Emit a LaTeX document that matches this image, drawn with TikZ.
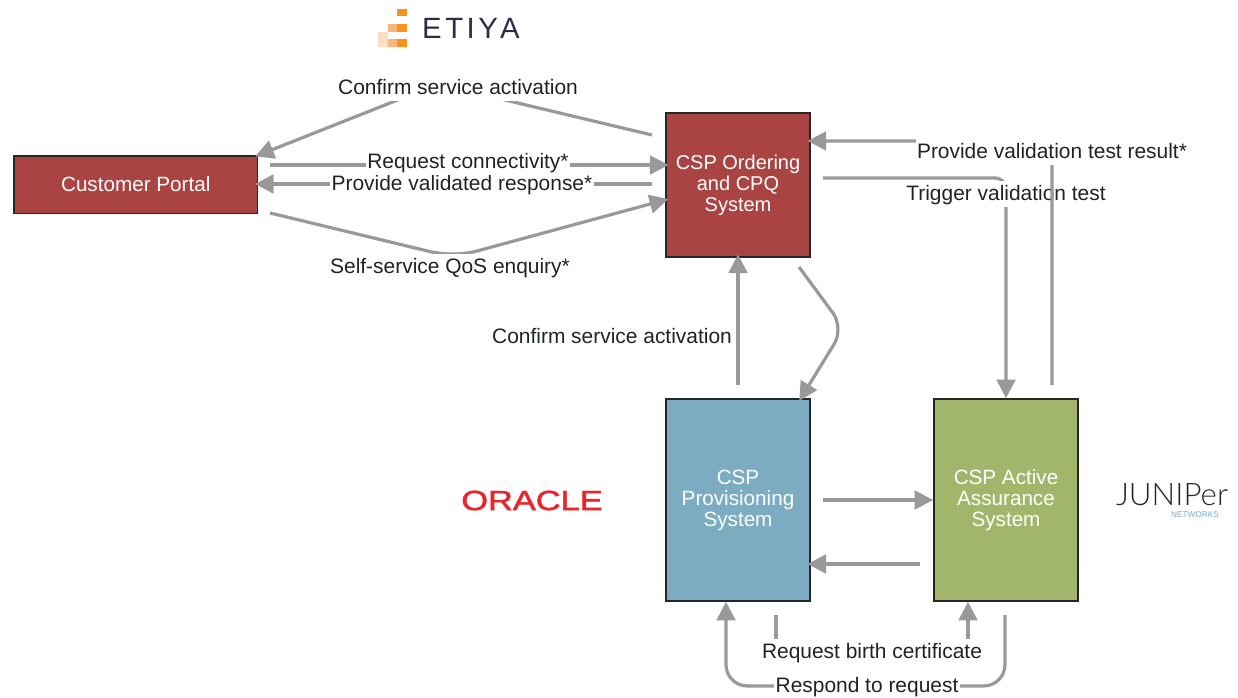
\documentclass[tikz,border=0pt]{standalone}
\usepackage{fontspec}
\usepackage{graphicx}
\setmainfont{Liberation Sans}
\newfontfamily\thinfont{Lato Light}
\newfontfamily\oraclefont[FakeBold=1.6]{Liberation Sans}
\usetikzlibrary{arrows.meta}
\definecolor{conn}{HTML}{999999}
\definecolor{redbox}{HTML}{A94442}
\definecolor{bluebox}{HTML}{7BACC1}
\definecolor{greenbox}{HTML}{A2B66B}
\definecolor{ink}{HTML}{1F2328}
\definecolor{etiyaO}{HTML}{F7931E}
\definecolor{etiyaM}{HTML}{FBB57C}
\definecolor{etiyaL}{HTML}{FDDDC4}
\definecolor{etiyaT}{HTML}{2B2E4A}
\definecolor{oraclered}{HTML}{E8262D}
\newcommand{\boxtext}[1]{\raisebox{-1pt}{\parbox{105pt}{\centering #1}}}
\tikzset{
  box/.style={draw=black!85,line width=1.2pt,text=white,align=center,inner sep=0pt,anchor=north west,
    font=\fontsize{15.5}{15.75}\selectfont},
  wire/.style={draw=conn,line width=2.4pt,rounded corners=8pt},
  arrowed/.style={wire,shorten >=-2.5pt,-{Triangle[length=14pt,width=14pt]}},
  lbl/.style={fill=white,text=ink,inner xsep=1pt,inner ysep=0pt,text height=14.5pt,text depth=5pt,font=\fontsize{15.7}{17}\selectfont},
}
\begin{document}
\begin{tikzpicture}[x=0.75pt,y=-0.75pt]
\path[use as bounding box] (0,0) rectangle (1238,698);
% boxes
\node[box,fill=redbox,minimum width=182.6pt,minimum height=43pt] (portal) at (13.2,155.2) {\raisebox{0.7pt}{Customer Portal}};
\node[box,fill=redbox,minimum width=108pt,minimum height=108pt,font=\fontsize{15}{15.75}\selectfont] (ordering) at (665.2,112.2) {CSP Ordering\\and CPQ\\System};
\node[box,fill=bluebox,minimum width=108pt,minimum height=151.5pt] (prov) at (665.2,398.2) {\boxtext{CSP\\Provisioning\\System}};
\node[box,fill=greenbox,minimum width=108pt,minimum height=151.5pt] (active) at (933.2,398.2) {\boxtext{CSP Active\\Assurance\\System}};
% free-end coordinates
\coordinate (c1) at (652,135);
\coordinate (c1m) at (438,84);
\coordinate (c2) at (270,165);
\coordinate (c3) at (652,184);
\coordinate (c4) at (270,213);
\coordinate (c4a) at (440,254);
\coordinate (c4b) at (466,254);
\coordinate (c5) at (738,385);
\coordinate (c6) at (799,267);
\coordinate (c6m) at (844,328);
\coordinate (c6e) at (801,398);
\coordinate (c7) at (823,178);
\coordinate (c8) at (1052,385);
\coordinate (c8m) at (1052,141);
\coordinate (c9) at (823,500);
\coordinate (c10) at (920,564);
\coordinate (c11) at (776,615);
\coordinate (c11a) at (776,650);
\coordinate (c11b) at (968,650);
\coordinate (c12) at (1005,615);
\coordinate (c12a) at (1005,686);
\coordinate (c12b) at (726,686);
% connectors under labels
\draw[arrowed,rounded corners=0pt] (c1) -- (c1m) -- (portal.north east);
\draw[arrowed] (c2) -- (c2 -| ordering.west);
\draw[arrowed] (c3) -- (c3 -| portal.east);
\draw[arrowed] (c4) -- (c4a) -- (c4b) -- (665,200);
\draw[arrowed] (c5) -- (c5 |- ordering.south);
\draw[arrowed,rounded corners=14pt] (c6) -- (c6m) -- (c6e);
\draw[arrowed,shorten >=0pt] (c7) -- (c7 -| active.north) -- (active.north);
\draw[arrowed,shorten >=0pt] (c9) -- (c9 -| active.west);
\draw[arrowed] (c10) -- (c10 -| prov.east);
\draw[arrowed,rounded corners=0pt,shorten >=0pt] (c11) -- (c11a) -- (c11b) -- (c11b |- active.south);
\draw[arrowed,rounded corners=16pt,shorten >=0pt] (c12) -- (c12a) -- (c12b) -- (c12b |- prov.south);
% labels
\node[lbl] (l1) at (458,87.7) {Confirm service activation};
\node[lbl] (l3) at (462,183.7) {Provide validated response*};
\node[lbl] (l2) at (468,161.7) {Request connectivity*};
\node[lbl] (l4) at (450,266.7) {Self-service QoS enquiry*};
\node[lbl] (l5) at (612,336.7) {Confirm service activation};
\node[lbl] (l6) at (1006,193.7) {Trigger validation test};
\draw[arrowed] (c8) -- (c8m) -- (c8m -| ordering.east);
\node[lbl] (l7) at (1052,151.7) {Provide validation test result*};
\node[lbl] (l8) at (872,651.7) {Request birth certificate};
\node[lbl] (l9) at (867,685.7) {Respond to request};
% ETIYA logo
\fill[etiyaO] (397,9) rectangle (407,16);
\fill[etiyaO] (397,24) rectangle (407,32);
\fill[etiyaO] (397,39) rectangle (407,47);
\fill[etiyaM] (388,24) rectangle (397,32);
\fill[etiyaM] (388,39) rectangle (397,47);
\fill[etiyaL] (378,32) rectangle (388,47);
\node[inner sep=0pt,text=etiyaT,font=\fontsize{22}{22}\selectfont] (etiya) at (471,28) {E\kern2.6pt T\kern2.6pt I\kern2.6pt Y\kern1.8pt A};
% ORACLE logo
\node[inner sep=0pt,text=oraclered] (oracle) at (532,500.5) {\resizebox{106pt}{14.5pt}{\oraclefont ORACLE}};
% JUNIPER logo
\node[inner sep=0pt,text=black!85] (juniper) at (1172,494.5) {\resizebox{84pt}{16.5pt}{\thinfont JUNIPer}};
\node[inner sep=0pt,text=bluebox,font=\fontsize{6.2}{6.5}\selectfont] (networks) at (1195,515) {NETWORKS};
\end{tikzpicture}
\end{document}
